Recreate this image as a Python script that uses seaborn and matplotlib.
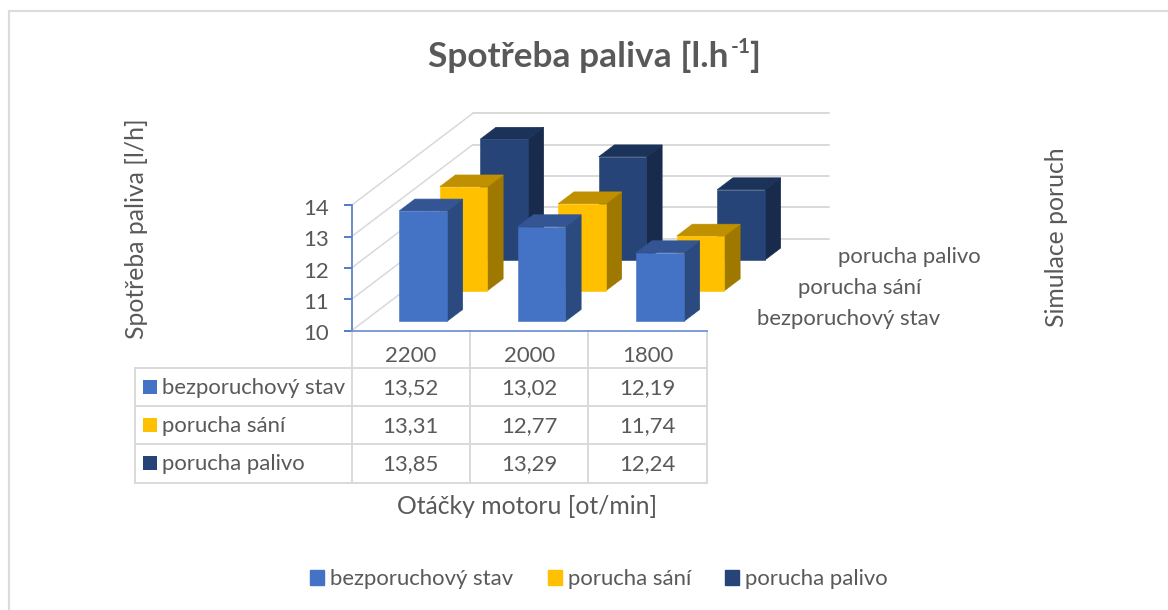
import matplotlib
matplotlib.use("Agg")
import matplotlib.pyplot as plt
from matplotlib.patches import Patch, Rectangle
from matplotlib.transforms import ScaledTranslation
import seaborn as sns

categories = ["2200", "2000", "1800"]
series_names = ["bezporuchový stav", "porucha sání", "porucha palivo"]
bezporuchovy = [13.52, 13.02, 12.19]
porucha_sani = [13.31, 12.77, 11.74]
porucha_palivo = [13.85, 13.29, 12.24]
title_main = "Spotřeba paliva [l.h"
y_title = "Spotřeba paliva [l/h]"
x_title = "Otáčky motoru [ot/min]"
depth_title = "Simulace poruch"
series_values = [bezporuchovy, porucha_sani, porucha_palivo]

front = ["#4472C4", "#FFC000", "#264478"]
top = ["#335593", "#BF9000", "#1C3359"]
side = ["#2A4A80", "#9F7800", "#182B4D"]
GREY = "#595959"
LINE = "#D9D9D9"
FS = 15.9
FS_AXIS = 17.8

sns.set_theme(style="white")
plt.rcParams["font.family"] = ["Lato", "DejaVu Sans"]
W, H = 1168, 610
fig = plt.figure(figsize=(W / 100, H / 100), dpi=100)

# overlay in pixel coordinates for frame, table and titles
ov = fig.add_axes([0, 0, 1, 1], zorder=0)
ov.set_xlim(0, W)
ov.set_ylim(H, 0)
ov.axis("off")

# chart axes: front plane of the oblique 3D box
L, R, B, T = 351.5, 707, 330.7, 205.3
ax = fig.add_axes([L / W, 1 - B / H, (R - L) / W, (B - T) / H], zorder=1)
ax.patch.set_alpha(0)

DX = 40.5 / 118.5   # category units per series step of depth
DV = 30.7 / 31.35   # value units per series step of depth
BAR_W = 47.7 / 118.5
BAR_D = 0.386
D0 = 0.306
NDEPTH = len(series_names)


def project(x, v, d):
    return x + d * DX, v + d * DV


XMIN, XMAX, VMIN, VMAX = -0.5, 2.5, 10, 14

# wall grid
for v in range(VMIN, VMAX + 1):
    bx0, by0 = project(XMIN, v, NDEPTH)
    bx1, by1 = project(XMAX, v, NDEPTH)
    ax.plot([XMIN, bx0], [v, by0], color=LINE, lw=1.1, clip_on=False, zorder=0.5)
    ax.plot([bx0, bx1], [by0, by1], color=LINE, lw=1.4, clip_on=False, zorder=0.5)

# bars, back to front
for i in reversed(range(NDEPTH)):
    vals = series_values[i]
    z = 10 + (NDEPTH - i)
    n_before = len(ax.patches)
    sns.barplot(x=categories, y=vals, order=categories, color=front[i], saturation=1,
                width=BAR_W, ax=ax, zorder=z + 0.2)
    bars = ax.patches[n_before:]
    d0 = D0 + i
    d1 = d0 + BAR_D
    for bar, v in zip(bars, vals):
        xl = bar.get_x()
        xr = xl + bar.get_width()
        fx, fy = project(xl, VMIN, d0)
        bar.set_x(fx)
        bar.set_y(fy)
        bar.set_height(v - VMIN)
        bar.set_clip_on(False)
        bar.set_edgecolor(front[i])
        bar.set_linewidth(0.4)
        topf = [project(xl, v, d0), project(xr, v, d0), project(xr, v, d1), project(xl, v, d1)]
        sidef = [project(xr, VMIN, d0), project(xr, VMIN, d1), project(xr, v, d1), project(xr, v, d0)]
        ax.fill(*zip(*sidef), facecolor=side[i], edgecolor=side[i], lw=0.5, clip_on=False, zorder=z)
        ax.fill(*zip(*topf), facecolor=top[i], edgecolor=top[i], lw=0.5, clip_on=False, zorder=z + 0.1)

ax.set_xlim(XMIN, XMAX)
ax.set_ylim(VMIN, VMAX)
ax.set_xlabel("")
ax.set_ylabel("")
ax.set_yticks(range(VMIN, VMAX + 1))
for s in ["top", "right"]:
    ax.spines[s].set_visible(False)
ax.spines["left"].set_color("#5B82CC")
ax.spines["bottom"].set_color("#7094D6")
ax.spines["left"].set_linewidth(1.3)
ax.spines["bottom"].set_linewidth(1.3)
ax.tick_params(axis="y", length=5.5, width=1.3, color="#4472C4", labelcolor=GREY,
               labelsize=FS, pad=11, left=True)
ax.tick_params(axis="x", length=0, labelcolor=GREY, labelsize=FS, pad=11, bottom=False)
shift_down = ScaledTranslation(0, -1.5 / 100, fig.dpi_scale_trans)
for lbl in ax.get_yticklabels():
    lbl.set_transform(lbl.get_transform() + shift_down)

# depth axis labels, placed through the same projection
for i, name in enumerate(series_names):
    x, v = project(XMAX, VMIN, i + 0.55)
    ax.text(x + 0.237, v - 0.15, name, color=GREY, fontsize=FS, va="center", ha="left",
            clip_on=False)

# chart frame: only top and left edges are inside the crop
ov.plot([9, W], [11, 11], color="#DCDCDC", lw=1.6)
ov.plot([9, 9], [11, H], color="#DCDCDC", lw=1.6)

# data table
col_x = [134.5, 351.7, 470, 588, 707]
row_y = [368.3, 406, 444.3, 482.7]
for y in row_y:
    ov.plot([col_x[0], col_x[-1]], [y, y], color=LINE, lw=1.4)
ov.plot([col_x[0], col_x[0]], [row_y[0], row_y[-1]], color=LINE, lw=1.4)
for x in col_x[1:]:
    ov.plot([x, x], [331, row_y[-1]], color=LINE, lw=1.4)
for r, name in enumerate(series_names):
    yc = (row_y[r] + row_y[r + 1]) / 2
    ov.add_patch(Rectangle((143, yc - 7.5), 14, 14, color=front[r], lw=0))
    ov.text(162, yc + 1, name, color=GREY, fontsize=FS, va="center", ha="left")
    for c, v in enumerate(series_values[r]):
        ov.text((col_x[c + 1] + col_x[c + 2]) / 2, yc + 1, f"{v:.2f}".replace(".", ","),
                color=GREY, fontsize=FS, va="center", ha="center")

# titles
ov.text(428, 57, title_main, color=GREY, fontsize=25.4, fontweight="bold", va="center", ha="left")
ov.text(731, 47, "-1", color=GREY, fontsize=15, fontweight="bold", va="center", ha="left")
ov.text(749, 57, "]", color=GREY, fontsize=25.4, fontweight="bold", va="center", ha="left")
ov.text(137, 229, y_title, color=GREY, fontsize=FS_AXIS, rotation=90, va="center", ha="center")
ov.text(1056, 237, depth_title, color=GREY, fontsize=FS_AXIS, rotation=90, va="center", ha="center")
ov.text(527, 506, x_title, color=GREY, fontsize=FS_AXIS, va="center", ha="center")

# legend
handles = [Patch(color=c, label=n) for c, n in zip(front, series_names)]
fig.legend(handles=handles, ncol=3, loc="center", bbox_to_anchor=(599 / W, 1 - 579 / H),
           frameon=False, fontsize=FS, labelcolor=GREY, handlelength=0.64, handleheight=0.64,
           handletextpad=0.27, columnspacing=1.55)

fig.savefig("out.png", dpi=100, facecolor="white")
